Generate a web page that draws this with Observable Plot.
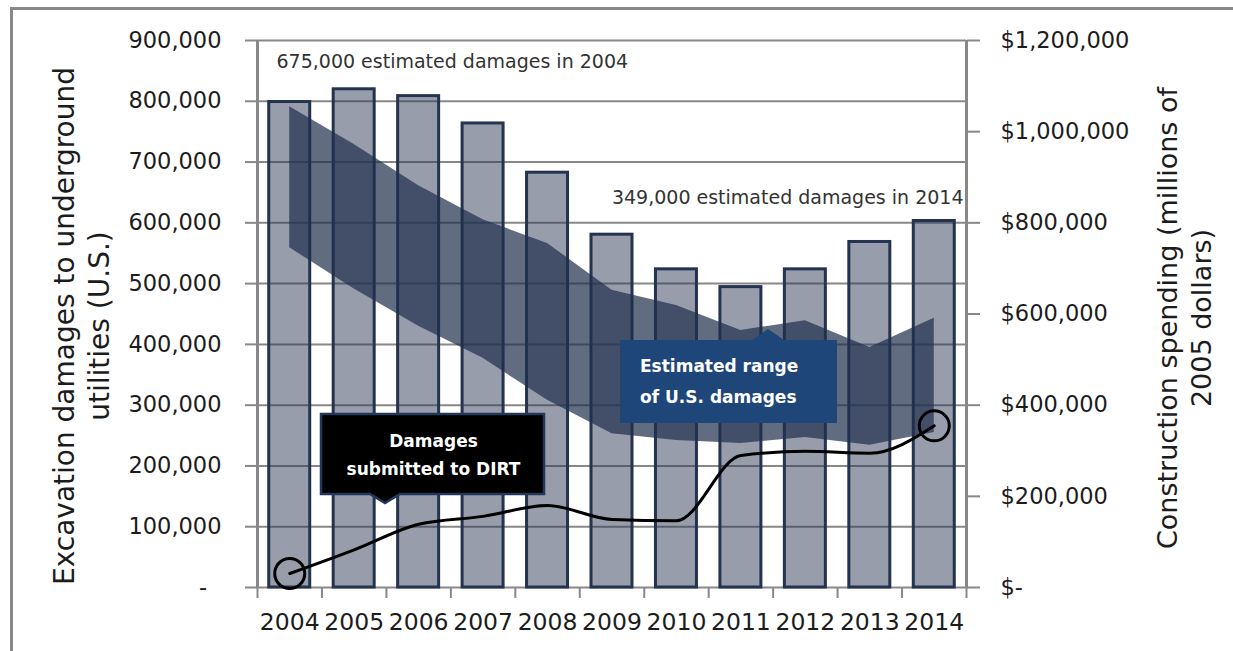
<!DOCTYPE html>
<html><head><meta charset="utf-8">
<script src="https://cdn.jsdelivr.net/npm/d3@7"></script>
<script src="https://cdn.jsdelivr.net/npm/@observablehq/plot@0.6"></script>
<style>
html,body{margin:0;padding:0;background:#fff;width:1233px;height:651px;overflow:hidden;}
#frame{position:absolute;left:10px;top:7px;width:1300px;height:700px;border:3px solid #888;box-sizing:border-box;}
#chart{position:absolute;left:0;top:0;}
</style></head><body>
<div id="frame"></div>
<div id="chart"></div>
<script>
// ---- data ----
const years = [2004, 2005, 2006, 2007, 2008, 2009, 2010, 2011, 2012, 2013, 2014];
// construction spending (millions of 2005 dollars), right axis
const constructionSpending = [1065000, 1093000, 1078000, 1018000, 910000, 774000, 698000, 659000, 698000, 758000, 804000];
// estimated range of U.S. damages, left axis
const damagesHigh = [791000, 729000, 661000, 605000, 566000, 489000, 464000, 423000, 439000, 395000, 443000];
const damagesLow  = [559000, 491000, 430000, 377000, 308000, 253000, 242000, 237000, 247000, 234000, 255000];
// damages submitted to DIRT, left axis
const dirtDamages = [23000, 62000, 104000, 117000, 135000, 112000, 110000, 217000, 224000, 221000, 266000];
const leftTicks = [0, 100000, 200000, 300000, 400000, 500000, 600000, 700000, 800000, 900000];
const rightTicks = [0, 200000, 400000, 600000, 800000, 1000000, 1200000];
const leftTitle = "Excavation damages to underground\nutilities (U.S.)";
const rightTitle = "Construction spending (millions of\n2005 dollars)";
const note2004 = "675,000 estimated damages in 2004";
const note2014 = "349,000 estimated damages in 2014";
const dirtLabel = ["Damages", "submitted to DIRT"];
const rangeLabel = ["Estimated range", "of U.S. damages"];

// ---- build ----
const ratio = leftTicks[leftTicks.length - 1] / rightTicks[rightTicks.length - 1];
const rows = years.map((year, i) => ({year, spending: constructionSpending[i], high: damagesHigh[i], low: damagesLow[i], dirt: dirtDamages[i]}));
const ends = [rows[0], rows[rows.length - 1]];
const boundaries = d3.range(years.length + 1).map(i => years[0] - 0.5 + i);
const FONT = "'DejaVu Sans', sans-serif";
const fmt = d3.format(",");
const GRID = "#888";
const TXT = "#1c1c1c";

const callouts = (index, scales, values, dims) => {
  const L = dims.marginLeft, T = dims.marginTop;
  const g = d3.create("svg:g").attr("font-family", FONT);
  // DIRT callout (black box, pointer down)
  const bx = L + 64, by = T + 374, bw = 223, bh = 80, px = L + 128;
  g.append("path")
    .attr("d", `M${bx},${by}H${bx + bw}V${by + bh}H${px + 15}L${px},${by + bh + 9}L${px - 15},${by + bh}H${bx}Z`)
    .attr("fill", "#000").attr("stroke", "#22375a").attr("stroke-width", 2.5);
  g.append("text").attr("x", bx + bw / 2 + 1).attr("y", by + 28).attr("text-anchor", "middle").attr("dominant-baseline", "middle")
    .attr("fill", "#fff").attr("font-weight", "bold").attr("font-size", 17).text(dirtLabel[0]);
  g.append("text").attr("x", bx + bw / 2 + 1).attr("y", by + 56).attr("text-anchor", "middle").attr("dominant-baseline", "middle")
    .attr("fill", "#fff").attr("font-weight", "bold").attr("font-size", 17).text(dirtLabel[1]);
  // range callout (blue box, pointer up)
  const cx = L + 363, cy = T + 300, cw = 217, ch = 83, qx = L + 511;
  g.append("path")
    .attr("d", `M${cx},${cy}H${qx - 16}L${qx},${cy - 11}L${qx + 16},${cy}H${cx + cw}V${cy + ch}H${cx}Z`)
    .attr("fill", "#1f4678");
  g.append("text").attr("x", cx + 20).attr("y", cy + 27).attr("text-anchor", "start").attr("dominant-baseline", "middle")
    .attr("fill", "#fff").attr("font-weight", "bold").attr("font-size", 17).text(rangeLabel[0]);
  g.append("text").attr("x", cx + 20).attr("y", cy + 58).attr("text-anchor", "start").attr("dominant-baseline", "middle")
    .attr("fill", "#fff").attr("font-weight", "bold").attr("font-size", 17).text(rangeLabel[1]);
  return g.node();
};

const chart = Plot.plot({
  width: 1233, height: 651,
  marginLeft: 257, marginRight: 267, marginTop: 40, marginBottom: 64,
  style: {fontFamily: FONT, background: "transparent", overflow: "visible"},
  x: {type: "linear", domain: [boundaries[0], boundaries[boundaries.length - 1]]},
  y: {domain: [0, leftTicks[leftTicks.length - 1]]},
  marks: [
    Plot.ruleY(leftTicks, {stroke: GRID, strokeWidth: 2}),
    Plot.axisY({ticks: leftTicks, tickSize: 12, tickPadding: 24, label: null, stroke: GRID, strokeWidth: 2, fill: TXT, fontSize: 22.5,
      tickFormat: d => d === 0 ? "-\u00a0\u00a0" : fmt(d)}),
    Plot.axisY({anchor: "right", ticks: rightTicks.map(v => v * ratio), tickSize: 13, tickPadding: 21, label: null, stroke: GRID, strokeWidth: 2, fill: TXT, fontSize: 22.5,
      tickFormat: d => { const v = Math.round(d / ratio); return v === 0 ? "$-" : "$" + fmt(v); }}),
    Plot.axisX({ticks: boundaries, tickSize: 11, tickFormat: () => "", label: null, stroke: GRID, strokeWidth: 2}),
    Plot.axisX({ticks: years, tickSize: 0, tickPadding: 26, label: null, fill: TXT, fontSize: 23.5, tickFormat: d => String(d)}),
    Plot.ruleX([boundaries[0], boundaries[boundaries.length - 1]], {stroke: GRID, strokeWidth: 3}),
    Plot.rectY(rows, {x1: d => d.year - 0.318, x2: d => d.year + 0.318, y: d => d.spending * ratio,
      fill: "#2b3754", fillOpacity: 0.49, stroke: "#24334f", strokeWidth: 3}),
    Plot.areaY(rows, {x: "year", y1: "low", y2: "high", fill: "#20304d", fillOpacity: 0.71}),
    Plot.line(rows, {x: "year", y: "dirt", stroke: "#000", strokeWidth: 3, curve: "monotone-x"}),
    Plot.dot(ends, {x: "year", y: "dirt", r: 15, stroke: "#000", strokeWidth: 3, fill: "none"}),
    Plot.text([note2004], {frameAnchor: "top-left", textAnchor: "start", lineAnchor: "middle", dx: 19, dy: 21, fontSize: 19, fill: "#333"}),
    Plot.text([note2014], {frameAnchor: "top-right", textAnchor: "end", lineAnchor: "middle", dx: -3, dy: 157, fontSize: 19, fill: "#333"}),
    Plot.text([leftTitle], {frameAnchor: "left", textAnchor: "middle", lineAnchor: "middle", rotate: -90, dx: -177, dy: 12, fontSize: 28, lineHeight: 1.25, fill: TXT}),
    Plot.text([rightTitle], {frameAnchor: "right", textAnchor: "middle", lineAnchor: "middle", rotate: -90, dx: 217, dy: 4, fontSize: 27, lineHeight: 1.25, fill: TXT}),
    callouts
  ]
});
document.getElementById("chart").appendChild(chart);
</script>
</body></html>
